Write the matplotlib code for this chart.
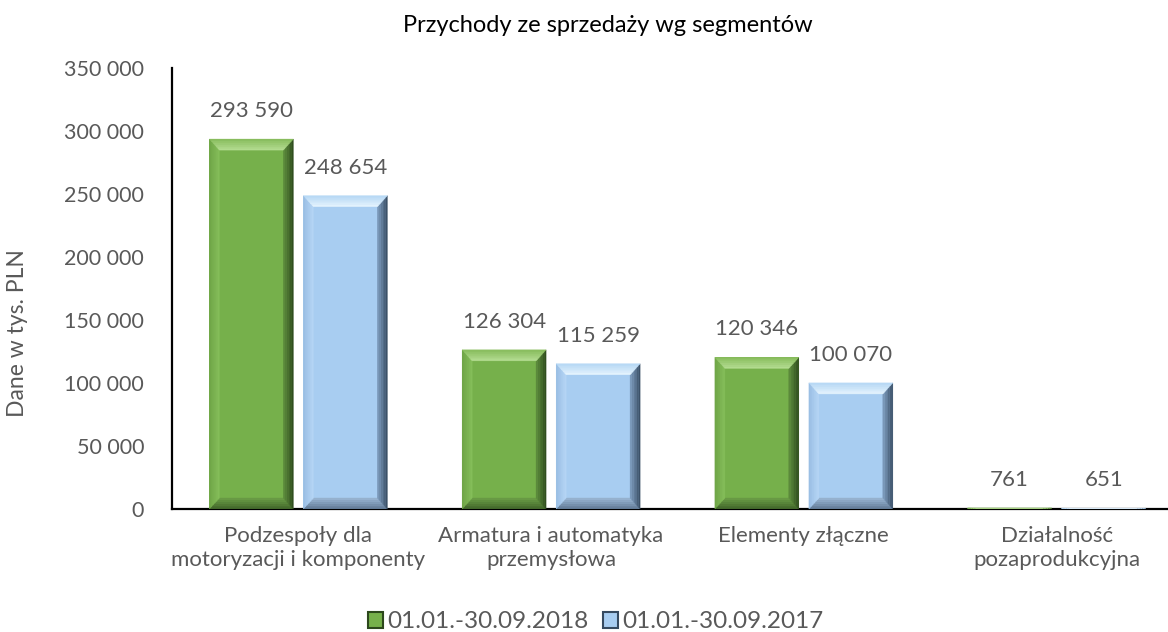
import matplotlib
matplotlib.use("Agg")
import matplotlib.pyplot as plt
from matplotlib.patches import Polygon, Rectangle
from matplotlib.colors import to_rgb
import numpy as np

plt.rcParams['font.family'] = ['Lato', 'DejaVu Sans']

# data
categories = ["Podzespoły dla\nmotoryzacji i komponenty",
              "Armatura i automatyka\nprzemysłowa",
              "Elementy złączne",
              "Działalność\npozaprodukcyjna"]
values_2018 = [293590, 126304, 120346, 761]
values_2017 = [248654, 115259, 100070, 651]
series_names = ["01.01.-30.09.2018", "01.01.-30.09.2017"]

gray = "#595959"

# bevel colours: (outer, inner) per side
green = {"base": "#76b04b",
         "top": ("#86bb5a", "#b6de94"),
         "left": ("#6ea446", "#86bf5b"),
         "right": ("#2c481c", "#5f8f3e"),
         "bottom": ("#3d6127", "#6c9e47")}
blue = {"base": "#a8cdf1",
        "top": ("#b4d6f4", "#e6f4fe"),
        "left": ("#98bde3", "#b6d6f5"),
        "right": ("#364a60", "#7f9ec0"),
        "bottom": ("#5c7590", "#9ab6d4")}

fig = plt.figure(figsize=(11.68, 6.32), dpi=100)
ax = fig.add_axes([172 / 1168, 1 - 509 / 632, 1011 / 1168, 441 / 632])

x = np.arange(len(categories))
width = 0.332
offset = 0.186

ax.set_xlim(-0.5, len(categories) - 0.5)
ax.set_ylim(0, 350000)

bars1 = ax.bar(x - offset, values_2018, width, color=green["base"], zorder=2)
bars2 = ax.bar(x + offset, values_2017, width, color=blue["base"], zorder=2)

# bevel size in data units (approx 11 px)
inv = ax.transData.inverted()
p0 = inv.transform((0, 0))
p1 = inv.transform((10, 11))
bx, by = p1[0] - p0[0], p1[1] - p0[1]


def mix(c1, c2, t):
    a, b = np.array(to_rgb(c1)), np.array(to_rgb(c2))
    return tuple(a + (b - a) * t)


def bevel(bars, col, n=6):
    for b in bars:
        x0, y0 = b.get_x(), b.get_y()
        x1, y1 = x0 + b.get_width(), y0 + b.get_height()
        dy = min(by, (y1 - y0) / 2)
        dx = min(bx, (x1 - x0) / 2)
        for i in range(n):
            t0, t1 = i / n, (i + 1) / n
            tm = (t0 + t1) / 2
            sides = {
                "bottom": [(x0 + dx * t0, y0 + dy * t0), (x1 - dx * t0, y0 + dy * t0),
                           (x1 - dx * t1, y0 + dy * t1), (x0 + dx * t1, y0 + dy * t1)],
                "left": [(x0 + dx * t0, y0 + dy * t0), (x0 + dx * t1, y0 + dy * t1),
                         (x0 + dx * t1, y1 - dy * t1), (x0 + dx * t0, y1 - dy * t0)],
                "right": [(x1 - dx * t0, y0 + dy * t0), (x1 - dx * t1, y0 + dy * t1),
                          (x1 - dx * t1, y1 - dy * t1), (x1 - dx * t0, y1 - dy * t0)],
                "top": [(x0 + dx * t0, y1 - dy * t0), (x1 - dx * t0, y1 - dy * t0),
                        (x1 - dx * t1, y1 - dy * t1), (x0 + dx * t1, y1 - dy * t1)],
            }
            for side, pts in sides.items():
                c = mix(col[side][0], col[side][1], tm)
                ax.add_patch(Polygon(pts, closed=True, facecolor=c, edgecolor=c,
                                     linewidth=0.3, zorder=3))


bevel(bars1, green)
bevel(bars2, blue)


def fmt(v):
    return f"{v:,.0f}".replace(",", " ")


for bars in (bars1, bars2):
    for b in bars:
        ax.annotate(fmt(b.get_height()), (b.get_x() + b.get_width() / 2, b.get_height()),
                    xytext=(0, 13), textcoords="offset points", ha="center", va="bottom",
                    fontsize=16, color=gray)

ax.set_yticks(np.arange(0, 350001, 50000))
ax.set_yticklabels([fmt(v) for v in np.arange(0, 350001, 50000)])
ax.set_xticks(x)
ax.set_xticklabels(categories, linespacing=1.3)
ax.tick_params(axis="y", length=0, labelsize=15.5, labelcolor=gray, pad=20)
ax.tick_params(axis="x", length=0, labelsize=16, labelcolor=gray, pad=12)

for s in ["top", "right"]:
    ax.spines[s].set_visible(False)
for s in ["left", "bottom"]:
    ax.spines[s].set_linewidth(1.6)
    ax.spines[s].set_color("black")

fig.text(18 / 1168, 1 - 333 / 632, "Dane w tys. PLN", rotation=90, ha="center", va="center",
         fontsize=16.5, color=gray)

fig.text(608 / 1168, 1 - 25 / 632, "Przychody ze sprzedaży wg segmentów", ha="center", va="center",
         fontsize=17, color="black")

handles = [Rectangle((0, 0), 1, 1, facecolor=green["base"], edgecolor=green["right"][0], linewidth=1.5),
           Rectangle((0, 0), 1, 1, facecolor=blue["base"], edgecolor=blue["right"][0], linewidth=1.5)]
leg = fig.legend(handles, series_names, loc="center", bbox_to_anchor=(596 / 1168, 1 - 622 / 632),
                 ncol=2, frameon=False, fontsize=17.5, handlelength=0.6, handleheight=0.6,
                 handletextpad=0.2, columnspacing=0.6, borderpad=0)
for t in leg.get_texts():
    t.set_color(gray)

fig.savefig("out.png", dpi=100)
